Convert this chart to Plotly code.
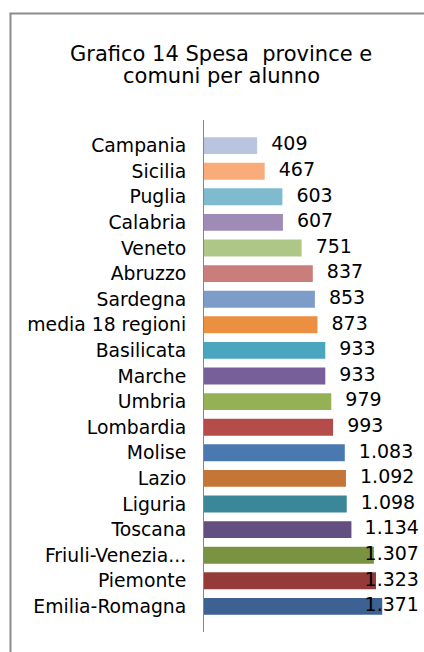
import plotly.graph_objects as go

regions = ["Campania", "Sicilia", "Puglia", "Calabria", "Veneto", "Abruzzo",
           "Sardegna", "media 18 regioni", "Basilicata", "Marche", "Umbria",
           "Lombardia", "Molise", "Lazio", "Liguria", "Toscana",
           "Friuli-Venezia...", "Piemonte", "Emilia-Romagna"]
spesa = [409, 467, 603, 607, 751, 837, 853, 873, 933, 933, 979, 993,
         1083, 1092, 1098, 1134, 1307, 1323, 1371]
value_labels = ["409", "467", "603", "607", "751", "837", "853", "873", "933",
                "933", "979", "993", "1.083", "1.092", "1.098", "1.134",
                "1.307", "1.323", "1.371"]
colors = ["#B9C4DF", "#F9AB7A", "#7EBBCF", "#9E8BB6", "#AFC786", "#C97E7C",
          "#7E9CC8", "#EB8F40", "#4AA6BE", "#775F99", "#94B156", "#B64C4A",
          "#4A78B0", "#C47638", "#3A8799", "#634E80", "#7A9343", "#943B3A",
          "#3D6193"]
title_lines = ["Grafico 14 Spesa\u00a0 province e", "comuni per alunno"]

W, H = 424, 652
L, T, B = 204, 120, 20
XMAX = 1500
PW = 195
R = W - L - PW
PH = H - T - B

def px_x(px):
    return (px - L) / PW

def px_y(py):
    return (H - B - py) / PH

FONT = "DejaVu Sans"

# label offsets in data units (outside end, clamped at chart edge)
gap = 108
clamp = 1235
label_x = [min(v + gap, clamp) for v in spesa]

fig = go.Figure()
fig.add_trace(go.Bar(
    y=regions, x=spesa, orientation="h",
    marker=dict(color=colors, line=dict(width=0)),
    hoverinfo="x+y",
))
fig.add_trace(go.Scatter(
    y=regions, x=label_x, mode="text", text=value_labels,
    textposition="middle right",
    textfont=dict(family=FONT, size=19, color="#000000"),
    cliponaxis=False, hoverinfo="skip",
))

for i, (line, py) in enumerate(zip(title_lines, [54, 76])):
    fig.add_annotation(
        text=line, x=px_x(221), y=px_y(py), xref="paper", yref="paper",
        xanchor="center", yanchor="middle", showarrow=False,
        font=dict(family=FONT, size=21, color="#000000"),
    )

frame_color = "#8C8C8C"
fig.add_shape(type="line", xref="paper", yref="paper",
              x0=px_x(10.5), x1=px_x(10.5), y0=px_y(H + 2), y1=px_y(13.5),
              line=dict(color=frame_color, width=2))
fig.add_shape(type="line", xref="paper", yref="paper",
              x0=px_x(9.5), x1=px_x(W + 2), y0=px_y(13.5), y1=px_y(13.5),
              line=dict(color=frame_color, width=2))

fig.update_layout(
    width=W, height=H,
    margin=dict(l=L, r=R, t=T, b=B, pad=0),
    paper_bgcolor="white", plot_bgcolor="white",
    showlegend=False, bargap=0.34,
    xaxis=dict(range=[0, XMAX], visible=False, fixedrange=True),
    yaxis=dict(autorange="reversed", showline=True, linecolor="#868686",
               linewidth=1, ticks="", showgrid=False, zeroline=False,
               ticklabelstandoff=13,
               tickfont=dict(family=FONT, size=18.8, color="#000000"),
               fixedrange=True),
)

fig.write_html(
    "out.html",
    config={"displayModeBar": False},
    post_script="document.body.style.margin='0';document.body.style.overflow='hidden';",
)
